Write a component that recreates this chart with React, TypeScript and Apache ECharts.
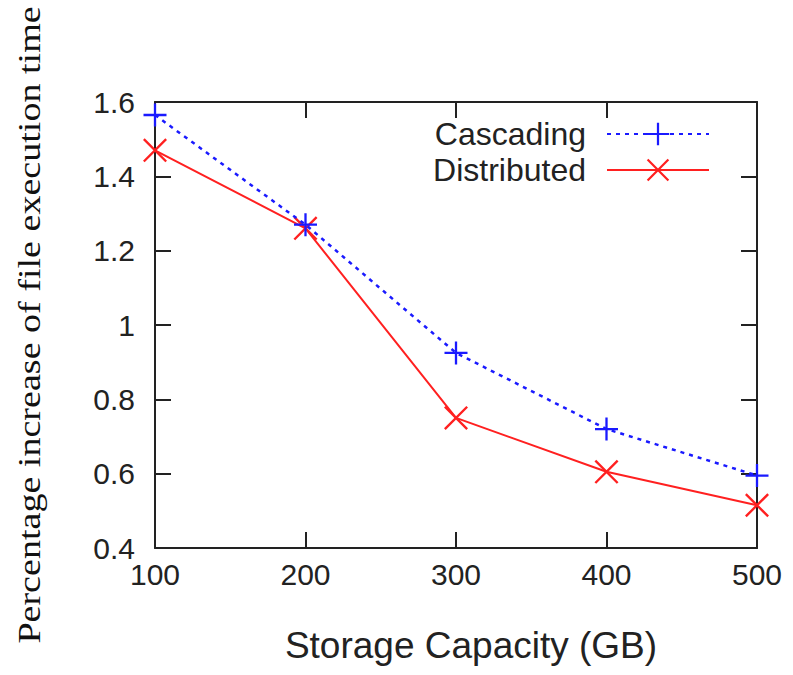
import React, { useEffect, useRef } from "react";
import * as echarts from "echarts";

const capacities = [100, 200, 300, 400, 500];
const cascading = [1.565, 1.27, 0.925, 0.72, 0.595];
const distributed = [1.47, 1.26, 0.75, 0.605, 0.515];
const seriesNames = ["Cascading", "Distributed"];
const xTitle = "Storage Capacity (GB)";
const yTitle = "Percentage increase of file execution time";

const PLUS = "path://M0,9 L20,9 L20,11 L0,11 Z M9,0 L11,0 L11,20 L9,20 Z";
const CROSS = "path://M0,1.4 L1.4,0 L20,18.6 L18.6,20 Z M18.6,0 L20,1.4 L1.4,20 L0,18.6 Z";

const AXIS = "#222";
const SANS = "Liberation Sans, Arial, sans-serif";

export default function App() {
  const ref = useRef<HTMLDivElement>(null);
  useEffect(() => {
    if (!ref.current) return;
    const chart = echarts.init(ref.current, undefined, { renderer: "svg" });
    const axisLine = { show: true, onZero: false, lineStyle: { color: AXIS, width: 2 } };
    const tick = { show: true, inside: true, length: 16, lineStyle: { color: AXIS, width: 2 } };
    chart.setOption({
      animation: false,
      backgroundColor: "#fff",
      grid: { left: 155, right: 36, top: 102, bottom: 127 },
      legend: {
        data: seriesNames,
        orient: "vertical",
        align: "right",
        right: 78,
        top: 113,
        itemWidth: 102,
        itemHeight: 28,
        itemGap: 4,
        textStyle: { fontSize: 32, fontFamily: SANS, color: AXIS, padding: [0, 16, 0, 0] },
      },
      graphic: [
        {
          type: "text",
          x: 30,
          y: 325,
          rotation: Math.PI / 2,
          scaleX: 1.19,
          style: {
            text: yTitle,
            font: "32px 'Liberation Serif', 'Times New Roman', serif",
            fill: "#111",
            align: "center",
            verticalAlign: "middle",
          },
        },
      ],
      xAxis: [
        {
          type: "value",
          position: "bottom",
          min: 100,
          max: 500,
          interval: 100,
          axisLine,
          axisTick: tick,
          splitLine: { show: false },
          axisLabel: { fontSize: 30, fontFamily: SANS, color: AXIS, margin: 11 },
          name: xTitle,
          nameLocation: "middle",
          nameGap: 79,
          nameTextStyle: { fontSize: 37, fontFamily: SANS, color: AXIS, padding: [0, 0, 0, 30] },
        },
        {
          type: "value",
          position: "top",
          min: 100,
          max: 500,
          interval: 100,
          axisLine,
          axisTick: tick,
          splitLine: { show: false },
          axisLabel: { show: false },
        },
      ],
      yAxis: [
        {
          type: "value",
          position: "left",
          min: 0.4,
          max: 1.6,
          interval: 0.2,
          axisLine,
          axisTick: tick,
          splitLine: { show: false },
          axisLabel: {
            fontSize: 30,
            fontFamily: SANS,
            color: AXIS,
            margin: 20,
            formatter: (v: number) => String(+v.toFixed(1)),
          },
        },
        {
          type: "value",
          position: "right",
          min: 0.4,
          max: 1.6,
          interval: 0.2,
          axisLine,
          axisTick: tick,
          splitLine: { show: false },
          axisLabel: { show: false },
        },
      ],
      series: [
        {
          name: seriesNames[0],
          type: "line",
          clip: false,
          data: capacities.map((c, i) => [c, cascading[i]]),
          symbol: PLUS,
          symbolSize: 23,
          itemStyle: { color: "#1a1aff" },
          lineStyle: { color: "#1a1aff", width: 2.5, type: [4, 5] },
          z: 3,
        },
        {
          name: seriesNames[1],
          type: "line",
          clip: false,
          data: capacities.map((c, i) => [c, distributed[i]]),
          symbol: CROSS,
          symbolSize: 24,
          itemStyle: { color: "#ff2020" },
          lineStyle: { color: "#ff2020", width: 2 },
          z: 2,
        },
      ],
    });
    return () => chart.dispose();
  }, []);
  return <div ref={ref} style={{ width: 793, height: 675, position: "absolute", left: 0, top: 0 }} />;
}
